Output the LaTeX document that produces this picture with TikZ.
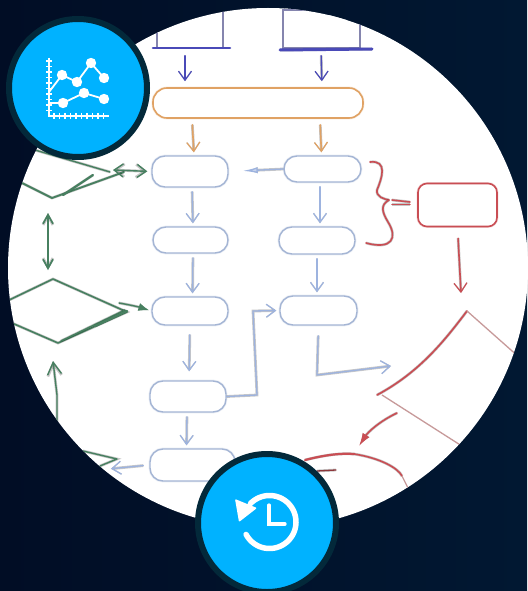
\documentclass[tikz,border=0pt]{standalone}
\usetikzlibrary{arrows.meta,calc}
\definecolor{bgl}{HTML}{010D25}
\definecolor{bgr}{HTML}{011832}
\definecolor{badge}{HTML}{00B2FF}
\definecolor{badgeedge}{HTML}{03293A}
\definecolor{purp}{HTML}{4A4AB8}
\definecolor{purpg}{HTML}{8585AE}
\definecolor{orng}{HTML}{E0A264}
\definecolor{blueln}{HTML}{A4B5D4}
\definecolor{bluear}{HTML}{9DB3DF}
\definecolor{grn}{HTML}{478060}
\definecolor{redd}{HTML}{C94E54}
\definecolor{redt}{HTML}{C79A9A}
\tikzset{
  x=1pt,y=-1pt,
  soft/.style={line cap=round,line join=round,preaction={draw,line width=2.8pt,opacity=.22}},
  flowbox/.style={draw,rounded corners=#1,inner sep=0pt,line width=1.4pt,fill=white,preaction={draw,line width=2.8pt,opacity=.22}},
  bluebox/.style={flowbox=13pt,draw=blueln,minimum width=76pt,minimum height=28pt},
  purplebox/.style={draw=purpg,line width=1.4pt,inner sep=0pt},
  tipv/.style={-{Straight Barb[length=9pt,width=13pt,line width=1.2pt]}},
  arrblue/.style={soft,tipv,draw=bluear,line width=1.3pt,shorten <=4pt,shorten >=3pt},
  arrpurp/.style={soft,tipv,draw=purp,line width=1.4pt,shorten <=7pt,shorten >=6pt},
  arrorng/.style={soft,tipv,draw=orng,line width=1.6pt,shorten <=6pt,shorten >=3pt},
  grnln/.style={soft,draw=grn,line width=1.4pt},
  redln/.style={soft,draw=redd,line width=1.6pt},
  redthin/.style={draw=redt,line width=1.3pt},
  iconln/.style={draw=white,line width=2pt},
  badgecirc/.style={circle,fill=badge,draw=badgeedge,line width=6pt,minimum size=138pt,inner sep=0pt},
}
\begin{document}
\begin{tikzpicture}
\useasboundingbox (0,0) rectangle (527,591);
\fill[left color=bgl,right color=bgr] (0,0) rectangle (527,591);
\node[circle,fill=white,minimum size=520pt,inner sep=0pt] (disc) at (268,268) {};
\begin{scope}
\clip (268,268) circle [radius=260pt];
% purple boxes
\node[purplebox,minimum width=66pt,minimum height=70pt] (pl) at (190,13) {};
\node[purplebox,minimum width=77pt,minimum height=38pt] (pr) at (321.5,29) {};
\fill[white] (285,5) rectangle (370,9);
\fill[white] (329,11.8) rectangle (359,20);
\coordinate (plA) at (153,48); \coordinate (plB) at (230,48);
\coordinate (prA) at (280,50); \coordinate (prB) at (372,49);
\draw[soft,draw=purp,line width=2.6pt] (plA) -- (plB);
\draw[soft,draw=purp,line width=3pt] (prA) -- (prB);
% flow nodes
\node[flowbox=14pt,draw=orng,line width=1.6pt,minimum width=210pt,minimum height=30pt] (org) at (258,103) {};
\node[bluebox,minimum height=31pt] (a1) at (190,171.5) {};
\node[bluebox,minimum width=75pt,minimum height=26pt] (a2) at (190.5,240) {};
\node[bluebox] (a3) at (190,311) {};
\node[bluebox,minimum height=31pt] (a4) at (188,396.5) {};
\node[bluebox,minimum width=85pt,minimum height=32pt] (a5) at (192.5,465) {};
\node[bluebox,minimum width=77pt,minimum height=26pt] (b1) at (322.5,169) {};
\node[bluebox,minimum height=27pt] (b2) at (317,240.5) {};
\node[bluebox,minimum width=77pt,minimum height=29pt] (b3) at (318.5,310.5) {};
\node[flowbox=9pt,draw=redd,line width=1.6pt,minimum width=79pt,minimum height=43pt] (rbox) at (457.5,205) {};
% purple to orange
\draw[arrpurp] ([xshift=-5pt]pl.south) -- ([xshift=-73pt]org.north);
\draw[arrpurp] ([xshift=-.5pt]pr.south) -- ([xshift=64pt]org.north);
% orange to blue
\draw[arrorng] ([xshift=-66pt]org.south) -- ([xshift=4pt]a1.north);
\draw[arrorng] ([xshift=62pt]org.south) -- ([xshift=-1pt]b1.north);
% blue arrows
\draw[arrblue] ([xshift=2pt]a1.south) -- ([xshift=2.5pt]a2.north);
\draw[arrblue] ([xshift=2.5pt]a2.south) -- ([xshift=2.5pt]a3.north);
\draw[arrblue,shorten <=9pt,shorten >=9pt] (a3.south) -- ([xshift=1pt]a4.north);
\draw[arrblue] ([xshift=-1pt]a4.south) -- ([xshift=-6pt]a5.north);
\draw[arrblue] ([xshift=-2.5pt]b1.south) -- ([xshift=3pt]b2.north);
\draw[arrblue] (b2.south) -- ([xshift=-1.5pt]b3.north);
\draw[soft,draw=bluear,line width=1.3pt,-{Latex[length=15pt,width=6pt,fill=bluear!55]},shorten >=14pt] (b1.west) -- (a1.east);
\coordinate (e1) at (257,395);
\coordinate (e2) at (253,311);
\draw[arrblue,shorten <=0pt] (a4.east) -- (e1) -- (e2) -- (b3.west);
\coordinate (e3) at (317,375);
\coordinate (e4) at (391,366);
\draw[arrblue,shorten <=10pt,shorten >=0pt] (b3.south) -- (e3) -- (e4);
% green diamonds
\coordinate (d1t) at (35,150); \coordinate (d1r) at (110,172);
\coordinate (d1R) at (124,172); \coordinate (d1b) at (52,198); \coordinate (d1l) at (22,183);
\coordinate (d1s) at (93,175); \coordinate (d1q) at (63,195);
\draw[grnln] (d1t) -- (d1r);
\draw[grnln,line width=1.8pt] (d1R) -- (d1b) -- (d1l);
\draw[grnln,line width=2.2pt] (d1s) -- (d1q);
\coordinate (d2t) at (53,279); \coordinate (d2l) at (5,302); \coordinate (d2r) at (127,312);
\coordinate (d2b) at (58,343); \coordinate (d2k) at (5,320);
\draw[grnln,line width=1.6pt] (d2l) -- (d2t) -- (d2r) -- (d2b) -- (d2k);
\draw[grnln,line width=1.5pt] ($(d2r)+(-2,-2)$) -- ($(d2b)+(3,-2)$);
\draw[grnln,line width=2.4pt] ($(d2r)+(0,-1)$) -- ($(d2r)+(-32,14)$);
\coordinate (d3a) at (83,451); \coordinate (d3b) at (117,459); \coordinate (d3c) at (100,466);
\draw[grnln] (d3a) -- (d3b) -- (d3c);
% green connectors
\draw[grnln,{Straight Barb[length=9pt,width=13pt]}-{Straight Barb[length=9pt,width=13pt]},shorten >=4pt] (113,170) -- (a1.west);
\coordinate (v1) at (48,213); \coordinate (v2) at (48,270);
\draw[grnln,line width=1.7pt,{Straight Barb[length=9pt,width=10pt]}-{Straight Barb[length=9pt,width=10pt]}] (v1) -- (v2);
\coordinate (g1) at (119,303);
\draw[grnln,-{Latex[length=11pt,width=8pt]},shorten >=2pt] (g1) to[bend left=4] (a3.west);
\coordinate (g2) at (57,425); \coordinate (g3) at (53,361);
\draw[grnln,-{Straight Barb[length=12pt,width=14pt]}] (g2) -- (57,395) -- (g3);
\draw[arrblue,shorten <=6pt] (a5.west) -- (108,469);
% red
\coordinate (bz1) at (370,162); \coordinate (bz2) at (389,200); \coordinate (bz3) at (366,243);
\draw[redln] (bz1) .. controls (388,160) and (382,178) .. (377,190) .. controls (376,197) and (384,199) .. (bz2);
\draw[redln] (bz2) .. controls (380,205) and (382,212) .. (388,222) .. controls (398,238) and (392,250) .. (bz3);
\draw[redln] (392,200) -- (410,202);
\draw[redln] (392,204.5) -- (410,204.5);
\coordinate (rd) at (461,293);
\draw[redln,tipv,shorten <=11pt] (rbox.south) -- (rd);
\coordinate (rt) at (467,311); \coordinate (rl) at (377,395); \coordinate (rr) at (520,358); \coordinate (rb) at (465,448);
\draw[redln,line width=1.7pt] (rt) .. controls (445,340) and (420,372) .. (rl);
\draw[redthin] (rt) -- (rr);
\draw[redthin] (382,395) -- (rb);
\coordinate (ra1) at (397,413); \coordinate (ra2) at (359,446);
\draw[redln,-{Latex[length=13pt,width=8pt]}] (ra1) .. controls (380,421) and (368,432) .. (ra2);
\coordinate (ca) at (305,460); \coordinate (cb) at (354,454); \coordinate (cc) at (408,488);
\draw[redln,line width=2.2pt] (ca) .. controls (325,455) and (340,453) .. (cb);
\draw[redln] (cb) .. controls (380,458) and (398,468) .. (402,476);
\draw[redthin] (402,476) -- (cc);
\coordinate (sa) at (317,471); \coordinate (sb) at (336,470);
\draw[soft,draw=redd!70!black,line width=1.3pt] (sa) -- (sb);
\end{scope}
% chart badge
\node[badgecirc] (chart) at (78,88) {};
\draw[iconln] (49,58) -- (49,116) -- (109,116);
\foreach \t in {61,66.5,...,112} \draw[white,line width=1.4pt] (46,\t) -- (52,\t);
\foreach \t in {54,59.5,...,108} \draw[white,line width=1.4pt] (\t,113) -- (\t,119);
\draw[iconln,line width=1.8pt] (49,92) -- (62,75) -- (77,82) -- (91,63) -- (104,78);
\draw[iconln,line width=1.8pt] (49,103) -- (63,103) -- (84,93) -- (104,99);
\foreach \p in {(62,75),(77,82),(91,63),(104,78),(63,103),(84,93),(104,99)}
  \fill[white] \p circle [radius=5.2pt];
% history badge
\node[badgecirc] (hist) at (267,523) {};
\draw[white,line width=5.5pt,line cap=round] plot[domain=224:512,samples=60,smooth] ({269.5+26.5*cos(\x)},{522+26.5*sin(\x)});
\fill[white,rounded corners=1pt] (235,499) -- (239,522) -- (257,508) -- cycle;
\draw[white,line width=3.2pt,line cap=round,line join=miter] (269,505) -- (269,524) -- (285,524);
\end{tikzpicture}
\end{document}
